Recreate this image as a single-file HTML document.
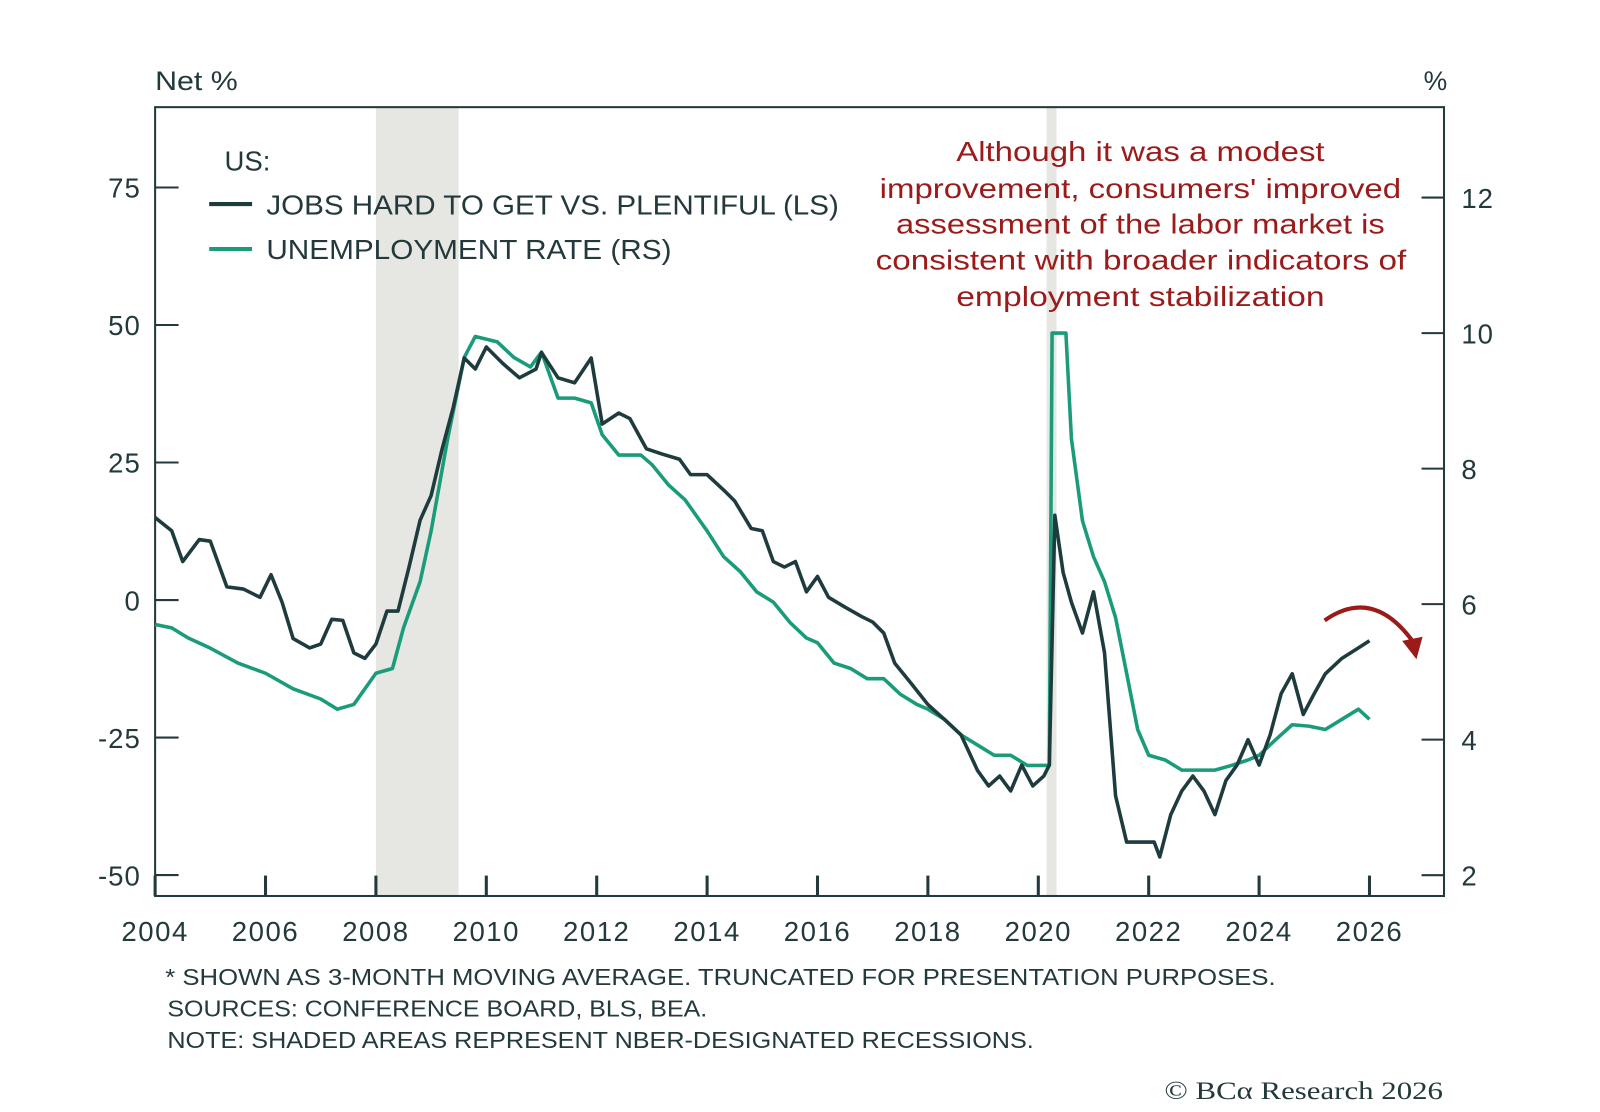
<!DOCTYPE html>
<html><head><meta charset="utf-8"><style>
body{margin:0;background:#fff;width:1600px;height:1107px;overflow:hidden}
svg text{font-family:"Liberation Sans",sans-serif}
</style></head><body>
<svg id="chart" width="1600" height="1107" viewBox="0 0 1600 1107" xmlns="http://www.w3.org/2000/svg">
<g transform="scale(1.0205)">
<g id="rec"></g>
<rect x="152" y="105" width="1263" height="773" fill="none" stroke="#23393c" stroke-width="2"/>
<g id="axes"></g>
<g id="series"></g>
<text x="152" y="88" font-size="26" fill="#23393c" textLength="81" lengthAdjust="spacingAndGlyphs">Net %</text>
<text x="1395" y="88" font-size="26" fill="#23393c">%</text>
<g>
<text x="220" y="167" font-size="27" fill="#23393c">US:</text>
<line x1="205" y1="200" x2="247" y2="200" stroke="#1e3b3e" stroke-width="4"/>
<text x="261" y="210" font-size="27" fill="#23393c" textLength="561" lengthAdjust="spacingAndGlyphs">JOBS HARD TO GET VS. PLENTIFUL (LS)</text>
<line x1="205" y1="244" x2="247" y2="244" stroke="#1a9c7a" stroke-width="4"/>
<text x="261" y="254" font-size="27" fill="#23393c" textLength="397" lengthAdjust="spacingAndGlyphs">UNEMPLOYMENT RATE (RS)</text>
</g>
<g font-size="27" fill="#9b1b1b" lengthAdjust="spacingAndGlyphs">
<text x="937" y="158" textLength="361" lengthAdjust="spacingAndGlyphs">Although it was a modest</text>
<text x="862" y="194" textLength="511" lengthAdjust="spacingAndGlyphs">improvement, consumers' improved</text>
<text x="878" y="229" textLength="479" lengthAdjust="spacingAndGlyphs">assessment of the labor market is</text>
<text x="858" y="264" textLength="520" lengthAdjust="spacingAndGlyphs">consistent with broader indicators of</text>
<text x="937" y="300" textLength="361" lengthAdjust="spacingAndGlyphs">employment stabilization</text>
</g>
<path d="M1298,608 Q1345,575 1384,628" fill="none" stroke="#9b1b1b" stroke-width="4"/>
<polygon points="1374,628 1394,624 1388,646" fill="#9b1b1b"/>
<g font-size="23" fill="#23393c">
<text x="162" y="965" textLength="1088" lengthAdjust="spacingAndGlyphs">* SHOWN AS 3-MONTH MOVING AVERAGE. TRUNCATED FOR PRESENTATION PURPOSES.</text>
<text x="164" y="996" textLength="529" lengthAdjust="spacingAndGlyphs">SOURCES: CONFERENCE BOARD, BLS, BEA.</text>
<text x="164" y="1027" textLength="849" lengthAdjust="spacingAndGlyphs">NOTE: SHADED AREAS REPRESENT NBER-DESIGNATED RECESSIONS.</text>
</g>
<text x="1141" y="1077" font-size="25" fill="#23393c" textLength="273" lengthAdjust="spacingAndGlyphs" style="font-family:'Liberation Serif',serif">© BCα Research 2026</text>
</g>
</svg>
<script>
const jobsT=[2004.0,2004.3,2004.5,2004.8,2005.0,2005.3,2005.6,2005.9,2006.1,2006.3,2006.5,2006.8,2007.0,2007.2,2007.4,2007.6,2007.8,2008.0,2008.2,2008.4,2008.6,2008.8,2009.0,2009.2,2009.4,2009.6,2009.8,2010.0,2010.3,2010.6,2010.9,2011.0,2011.3,2011.6,2011.9,2012.1,2012.4,2012.6,2012.9,2013.2,2013.5,2013.7,2014.0,2014.3,2014.5,2014.8,2015.0,2015.2,2015.4,2015.6,2015.8,2016.0,2016.2,2016.5,2016.8,2017.0,2017.2,2017.4,2017.7,2018.0,2018.3,2018.6,2018.9,2019.1,2019.3,2019.5,2019.7,2019.9,2020.1,2020.2,2020.3,2020.45,2020.6,2020.8,2021.0,2021.2,2021.4,2021.6,2021.9,2022.1,2022.2,2022.4,2022.6,2022.8,2023.0,2023.2,2023.4,2023.6,2023.8,2024.0,2024.2,2024.4,2024.6,2024.8,2025.0,2025.2,2025.5,2025.8,2026.0];
const jobsV=[15,12.6,7,11,10.7,2.4,2,0.5,4.6,-0.4,-7,-8.7,-8,-3.5,-3.7,-9.6,-10.6,-8,-2,-2,6,14.5,19,27.5,35,44,42,46,43,40.4,42,45,40.4,39.5,44,32,34,33,27.5,26.5,25.6,22.8,22.8,20,18,13,12.6,7,6,7,1.5,4.3,0.5,-1.3,-3,-4,-6,-11.5,-15.2,-19,-21.7,-24.5,-31,-33.8,-32,-34.7,-30,-33.8,-32,-30,15.4,5,-0.4,-6,1.5,-9.6,-35.6,-44,-44,-44,-46.7,-39,-34.7,-32,-34.7,-39,-32.8,-30,-25.4,-30,-24.5,-17,-13.4,-20.8,-17,-13.4,-10.6,-8.7,-7.4];
const unT=[2004.0,2004.3,2004.6,2005.0,2005.5,2006.0,2006.5,2007.0,2007.3,2007.6,2008.0,2008.3,2008.5,2008.8,2009.0,2009.3,2009.6,2009.8,2010.2,2010.5,2010.8,2011.0,2011.3,2011.6,2011.9,2012.1,2012.4,2012.8,2013.0,2013.3,2013.6,2014.0,2014.3,2014.6,2014.9,2015.2,2015.5,2015.8,2016.0,2016.3,2016.6,2016.9,2017.2,2017.5,2017.8,2018.0,2018.3,2018.6,2018.9,2019.2,2019.5,2019.8,2020.1,2020.2,2020.25,2020.5,2020.6,2020.8,2021.0,2021.2,2021.4,2021.6,2021.8,2022.0,2022.3,2022.6,2022.9,2023.2,2023.5,2023.8,2024.0,2024.3,2024.6,2024.9,2025.2,2025.5,2025.8,2026.0];
const unV=[5.7,5.65,5.5,5.35,5.13,4.98,4.75,4.6,4.45,4.52,4.98,5.05,5.65,6.33,7.08,8.44,9.64,9.95,9.87,9.64,9.5,9.72,9.04,9.04,8.97,8.5,8.2,8.2,8.06,7.76,7.54,7.08,6.7,6.48,6.18,6.03,5.73,5.5,5.43,5.13,5.05,4.9,4.9,4.67,4.52,4.45,4.3,4.07,3.92,3.77,3.77,3.62,3.62,3.62,10,10,8.44,7.23,6.7,6.33,5.8,4.98,4.15,3.77,3.7,3.55,3.55,3.55,3.62,3.7,3.77,4,4.22,4.2,4.15,4.3,4.45,4.3];
const leftTicks=[75,50,25,0,-25,-50];
const rightTicks=[12,10,8,6,4,2];
const yearTicks=[2004,2006,2008,2010,2012,2014,2016,2018,2020,2022,2024,2026];
const recessions=[[2008.0,2009.5],[2020.15,2020.33]];
const NS="http://www.w3.org/2000/svg";
const X=t=>152+(t-2004)*54.09;
const YL=v=>588-v*5.39;
const YR=v=>592-(v-6)*66.4;
function mk(tag,attrs,parent,txt){const e=document.createElementNS(NS,tag);for(const k in attrs)e.setAttribute(k,attrs[k]);if(txt!==undefined)e.textContent=txt;parent.appendChild(e);return e;}
const rec=document.getElementById('rec'),ax=document.getElementById('axes'),se=document.getElementById('series');
recessions.forEach(r=>{const e=mk('rect',{x:X(r[0]),y:105,width:X(r[1])-X(r[0]),height:773,fill:'#e6e6e2'},rec);

});
leftTicks.forEach(v=>{const y=YL(v);mk('line',{x1:152,x2:175,y1:y,y2:y,stroke:'#23393c','stroke-width':2},ax);
const t=mk('text',{x:138,y:y+10,'font-size':27,fill:'#23393c','text-anchor':'end','letter-spacing':1},ax,String(v));

});
rightTicks.forEach(v=>{const y=YR(v);mk('line',{x1:1393,x2:1415,y1:y,y2:y,stroke:'#23393c','stroke-width':2},ax);
const t=mk('text',{x:1432,y:y+10,'font-size':27,fill:'#23393c','letter-spacing':1},ax,String(v));

});
yearTicks.forEach(v=>{const x=X(v);mk('line',{x1:x,x2:x,y1:858,y2:878,stroke:'#23393c','stroke-width':3},ax);
const t=mk('text',{x:x,y:922,'font-size':27,fill:'#23393c','text-anchor':'middle','letter-spacing':1.5},ax,String(v));

});
const p1=mk('polyline',{points:unT.map((t,i)=>X(t)+','+YR(unV[i])).join(' '),fill:'none',stroke:'#1a9c7a','stroke-width':3.5,'stroke-linejoin':'round'},se);


const p2=mk('polyline',{points:jobsT.map((t,i)=>X(t)+','+YL(jobsV[i])).join(' '),fill:'none',stroke:'#1e3b3e','stroke-width':3.5,'stroke-linejoin':'round'},se);


</script>
</body></html>
